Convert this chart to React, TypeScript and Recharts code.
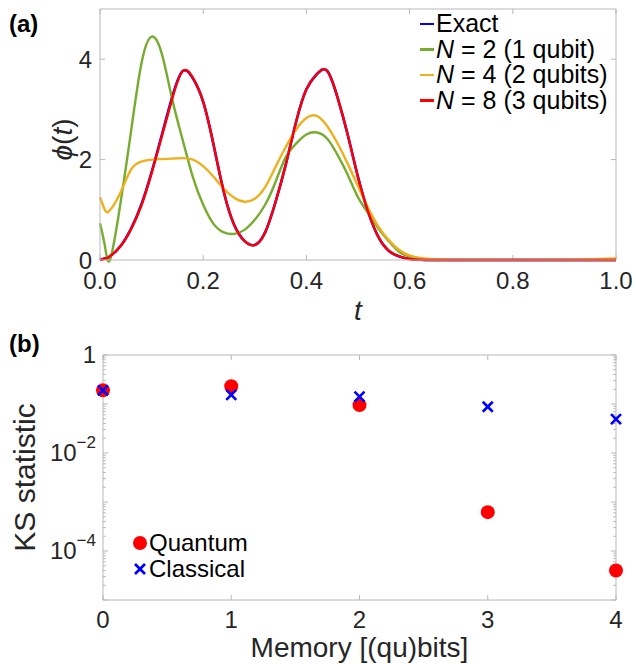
import React from "react";
import { LineChart, Line, XAxis, YAxis, Label, ScatterChart, Scatter, ReferenceLine } from "recharts";

// panel (a): phi(t) curves
const tValues = [0, 0.01, 0.02, 0.04, 0.06, 0.08, 0.1, 0.12, 0.14, 0.16, 0.18, 0.2, 0.22, 0.24, 0.26, 0.28, 0.3, 0.32, 0.34, 0.36, 0.38, 0.4, 0.42, 0.44, 0.46, 0.48, 0.5, 0.52, 0.54, 0.56, 0.58, 0.6, 0.62, 0.64, 0.66, 0.7, 0.8, 0.9, 1.0];
const exactPhi = [0, 0.03, 0.08, 0.28, 0.62, 1.1, 1.75, 2.5, 3.25, 3.76, 3.62, 3.15, 2.3, 1.35, 0.7, 0.38, 0.3, 0.55, 1.15, 1.9, 2.75, 3.4, 3.7, 3.77, 3.25, 2.5, 1.65, 0.95, 0.45, 0.18, 0.07, 0.02, 0.005, 0, 0, 0, 0, 0, 0];
const phiN2 = [0.73, 0.25, 0.02, 1.15, 2.55, 3.9, 4.45, 4.1, 3.2, 2.4, 1.65, 1.1, 0.72, 0.55, 0.52, 0.6, 0.8, 1.1, 1.55, 2.05, 2.32, 2.5, 2.54, 2.42, 2.1, 1.7, 1.25, 0.93, 0.62, 0.37, 0.16, 0.07, 0.02, 0.005, 0, 0, 0, 0, 0];
const phiN4 = [1.25, 0.99, 1.0, 1.35, 1.8, 1.96, 2.0, 2.01, 2.02, 2.03, 2.0, 1.87, 1.66, 1.42, 1.24, 1.16, 1.22, 1.45, 1.85, 2.25, 2.6, 2.83, 2.87, 2.67, 2.33, 1.92, 1.47, 1.03, 0.66, 0.39, 0.2, 0.09, 0.04, 0.02, 0.01, 0.005, 0.003, 0.005, 0.03];
const phiN8 = [0, 0.03, 0.08, 0.28, 0.61, 1.08, 1.73, 2.47, 3.22, 3.76, 3.63, 3.15, 2.3, 1.36, 0.7, 0.38, 0.3, 0.55, 1.15, 1.9, 2.75, 3.4, 3.7, 3.77, 3.25, 2.5, 1.65, 0.95, 0.45, 0.18, 0.07, 0.02, 0.005, 0, 0, 0, 0, 0, 0];
const tTicks = [0, 0.2, 0.4, 0.6, 0.8, 1.0];
const phiTicks = [0, 2, 4];

// panel (b): KS statistic vs memory
const memoryBits = [0, 1, 2, 3, 4];
const quantumKS = [0.19, 0.23, 0.095, 6.2e-4, 4.0e-5];
const classicalKS = [0.19, 0.153, 0.141, 0.088, 0.049];
const ksDecades = [1, 1e-1, 1e-2, 1e-3, 1e-4, 1e-5];
const ksLabelTicks = [1, 1e-2, 1e-4];

const BOX = "#b8b8b8";
const TEXT = "#262626";
const FONT = "'Liberation Sans', Arial, sans-serif";

const lineData = tValues.map((t, i) => ({ t, exact: exactPhi[i], n2: phiN2[i], n4: phiN4[i], n8: phiN8[i] }));
const quantumData = memoryBits.map((x, i) => ({ x, y: quantumKS[i] }));
const classicalData = memoryBits.map((x, i) => ({ x, y: classicalKS[i] }));
const ksMinorTicks = ksDecades.slice(1).flatMap(d => [2, 3, 4, 5, 6, 7, 8, 9].map(k => k * d));

const legendA = [
  { color: "#0000ff", name: null, text: "Exact" },
  { color: "#77ac30", name: "N", text: "\u00a0= 2 (1 qubit)" },
  { color: "#edb120", name: "N", text: "\u00a0= 4 (2 qubits)" },
  { color: "#ff0000", name: "N", text: "\u00a0= 8 (3 qubits)" },
];

const KsTick = (props: any) => {
  const { x, y, payload } = props;
  const exp = Math.round(Math.log10(payload.value));
  return (
    <text x={x} y={y} dy="0.35em" textAnchor="end" fontSize={24} fill={TEXT} fontFamily={FONT}>
      {exp === 0 ? "1" : (
        <>
          <tspan>10</tspan>
          <tspan dy={-13} fontSize={17}>{"\u2212" + Math.abs(exp)}</tspan>
        </>
      )}
    </text>
  );
};

const Dot = (props: any) => <circle cx={props.cx} cy={props.cy} r={7} fill="#ff0000" />;
const Cross = (props: any) => {
  const { cx, cy } = props;
  const s = 5;
  return (
    <g stroke="#0000ff" strokeWidth={2.6}>
      <line x1={cx - s} y1={cy - s} x2={cx + s} y2={cy + s} />
      <line x1={cx - s} y1={cy + s} x2={cx + s} y2={cy - s} />
    </g>
  );
};

// frame: top/right edges and inward tick marks, as reference lines
const seg = (key: string, a: any, b: any) => (
  <ReferenceLine key={key} segment={[a, b]} stroke={BOX} strokeWidth={1} />
);

function frameA() {
  const out: any[] = [
    <ReferenceLine key="top" y={5} stroke={BOX} />,
    <ReferenceLine key="right" x={1} stroke={BOX} />,
  ];
  tTicks.forEach(t => {
    out.push(seg(`xb${t}`, { x: t, y: 0 }, { x: t, y: 0.1 }));
    out.push(seg(`xt${t}`, { x: t, y: 5 }, { x: t, y: 4.9 }));
  });
  phiTicks.forEach(v => {
    out.push(seg(`yl${v}`, { x: 0, y: v }, { x: 0.01, y: v }));
    out.push(seg(`yr${v}`, { x: 1, y: v }, { x: 0.99, y: v }));
  });
  return out;
}

function frameB() {
  const out: any[] = [
    <ReferenceLine key="top" y={1} stroke={BOX} />,
    <ReferenceLine key="right" x={4} stroke={BOX} />,
  ];
  memoryBits.forEach(m => {
    out.push(seg(`xb${m}`, { x: m, y: 1e-5 }, { x: m, y: 1.26e-5 }));
    out.push(seg(`xt${m}`, { x: m, y: 1 }, { x: m, y: 0.79 }));
  });
  ksDecades.forEach(d => {
    out.push(seg(`yl${d}`, { x: 0, y: d }, { x: 0.04, y: d }));
    out.push(seg(`yr${d}`, { x: 4, y: d }, { x: 3.96, y: d }));
  });
  ksMinorTicks.forEach(d => {
    out.push(seg(`ml${d}`, { x: 0, y: d }, { x: 0.022, y: d }));
    out.push(seg(`mr${d}`, { x: 4, y: d }, { x: 3.978, y: d }));
  });
  return out;
}

function PanelA() {
  return (
    <LineChart width={636} height={330} data={lineData} margin={{ top: 9, right: 20, bottom: 0, left: 0 }}>
      <XAxis dataKey="t" type="number" domain={[0, 1]} ticks={tTicks} tickFormatter={(v: number) => v.toFixed(1)}
        tickLine={false} axisLine={{ stroke: BOX }} tick={{ fontSize: 24, fill: TEXT, fontFamily: FONT }}
        tickSize={6} tickMargin={6} height={70}>
        <Label content={({ viewBox }: any) => (
          <text x={viewBox.x + viewBox.width / 2} y={viewBox.y + 50} dy="0.35em" textAnchor="middle"
            fontSize={28} fontStyle="italic" fill={TEXT} fontFamily={FONT}>t</text>
        )} />
      </XAxis>
      <YAxis type="number" domain={[0, 5]} ticks={phiTicks} width={100} tickLine={false} axisLine={{ stroke: BOX }}
        tick={{ fontSize: 24, fill: TEXT, fontFamily: FONT }}>
        <Label content={({ viewBox }: any) => {
          const cx = viewBox.x + 62;
          const cy = viewBox.y + viewBox.height / 2 + 5;
          return (
            <text x={cx} y={cy} dy="0.35em" textAnchor="middle" transform={`rotate(-90 ${cx} ${cy})`}
              fontSize={28} fill={TEXT} fontFamily={FONT}>
              <tspan fontStyle="italic">{"\u03d5"}</tspan>
              <tspan>(</tspan>
              <tspan fontStyle="italic">t</tspan>
              <tspan>)</tspan>
            </text>
          );
        }} />
      </YAxis>
      {frameA()}
      <Line dataKey="exact" type="natural" stroke="#0000ff" strokeWidth={2.6} dot={false} isAnimationActive={false} />
      <Line dataKey="n2" type="natural" stroke="#77ac30" strokeWidth={2.4} dot={false} isAnimationActive={false} />
      <Line dataKey="n4" type="natural" stroke="#edb120" strokeWidth={2.4} dot={false} isAnimationActive={false} />
      <Line dataKey="n8" type="natural" stroke="#ff0000" strokeWidth={2.4} dot={false} isAnimationActive={false} />
    </LineChart>
  );
}

function PanelB() {
  return (
    <ScatterChart width={636} height={334} margin={{ top: 25, right: 20, bottom: 0, left: 0 }}>
      <XAxis dataKey="x" type="number" domain={[0, 4]} ticks={memoryBits} tickLine={false} axisLine={{ stroke: BOX }}
        tick={{ fontSize: 24, fill: TEXT, fontFamily: FONT }} tickSize={6} tickMargin={5} height={64}>
        <Label content={({ viewBox }: any) => (
          <text x={viewBox.x + viewBox.width / 2} y={viewBox.y + 57} textAnchor="middle"
            fontSize={28} fill={TEXT} fontFamily={FONT}>Memory [(qu)bits]</text>
        )} />
      </XAxis>
      <YAxis dataKey="y" type="number" scale="log" domain={[1e-5, 1]} ticks={ksLabelTicks} width={103}
        tickLine={false} axisLine={{ stroke: BOX }} tickSize={4} tickMargin={3} tick={<KsTick />}>
        <Label content={({ viewBox }: any) => {
          const cx = viewBox.x + 24;
          const cy = viewBox.y + viewBox.height / 2;
          return (
            <text x={cx} y={cy} dy="0.35em" textAnchor="middle" transform={`rotate(-90 ${cx} ${cy})`}
              fontSize={30} fill={TEXT} fontFamily={FONT}>KS statistic</text>
          );
        }} />
      </YAxis>
      {frameB()}
      <Scatter name="Quantum" data={quantumData} shape={<Dot />} isAnimationActive={false} />
      <Scatter name="Classical" data={classicalData} shape={<Cross />} isAnimationActive={false} />
    </ScatterChart>
  );
}

export default function App() {
  return (
    <div style={{ position: "absolute", left: 0, top: 0, width: 636, height: 664, background: "#fff", fontFamily: FONT, color: TEXT }}>
      <div style={{ position: "absolute", left: 0, top: 0 }}><PanelA /></div>
      <div style={{ position: "absolute", left: 0, top: 330 }}><PanelB /></div>

      <div style={{ position: "absolute", left: 9, top: 10, fontSize: 24, fontWeight: "bold", color: "#000" }}>(a)</div>
      <div style={{ position: "absolute", left: 9, top: 330, fontSize: 24, fontWeight: "bold", color: "#000" }}>(b)</div>

      <div style={{ position: "absolute", left: 420, top: 11 }}>
        {legendA.map(item => (
          <div key={item.color} style={{ display: "flex", alignItems: "center", height: 25.5, fontSize: 25, lineHeight: "25px", whiteSpace: "nowrap", color: "#000" }}>
            <span style={{ display: "inline-block", width: 14, height: 2.5, background: item.color, marginRight: 2 }} />
            {item.name && <span style={{ fontStyle: "italic" }}>{item.name}</span>}
            <span>{item.text}</span>
          </div>
        ))}
      </div>

      <div style={{ position: "absolute", left: 131, top: 530 }}>
        <div style={{ display: "flex", alignItems: "center", height: 26, fontSize: 24, color: "#000" }}>
          <svg width={18} height={18}><circle cx={9} cy={9} r={7} fill="#ff0000" /></svg>
          <span>Quantum</span>
        </div>
        <div style={{ display: "flex", alignItems: "center", height: 26, fontSize: 24, color: "#000" }}>
          <svg width={18} height={18}><g stroke="#0000ff" strokeWidth={2.6}><line x1={4} y1={4} x2={14} y2={14} /><line x1={4} y1={14} x2={14} y2={4} /></g></svg>
          <span>Classical</span>
        </div>
      </div>
    </div>
  );
}
